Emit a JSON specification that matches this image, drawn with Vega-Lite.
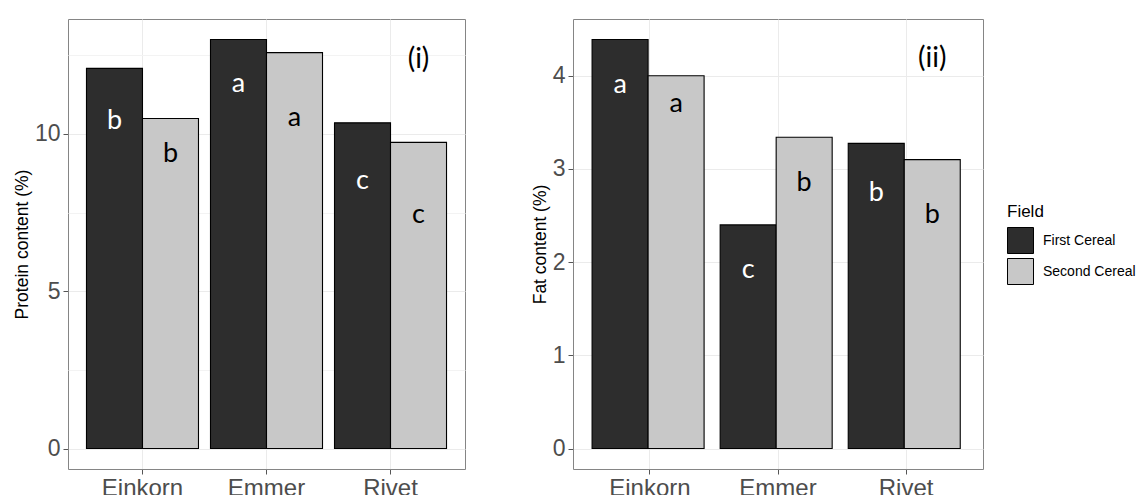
{
  "$schema": "https://vega.github.io/schema/vega-lite/v6.json",
  "padding": {"left": 12, "top": 18, "right": 0, "bottom": 0},
  "background": "white",
  "spacing": 64,
  "datasets": {
    "bars": [
      {"Crop": "Einkorn", "Field": "First Cereal", "Protein": 12.08, "ProteinLetter": "b", "ProteinLabel": 10.17, "Fat": 4.39, "FatLetter": "a", "FatLabel": 3.82},
      {"Crop": "Einkorn", "Field": "Second Cereal", "Protein": 10.49, "ProteinLetter": "b", "ProteinLabel": 9.12, "Fat": 4.0, "FatLetter": "a", "FatLabel": 3.61},
      {"Crop": "Emmer", "Field": "First Cereal", "Protein": 13.0, "ProteinLetter": "a", "ProteinLabel": 11.34, "Fat": 2.4, "FatLetter": "c", "FatLabel": 1.83},
      {"Crop": "Emmer", "Field": "Second Cereal", "Protein": 12.58, "ProteinLetter": "a", "ProteinLabel": 10.26, "Fat": 3.34, "FatLetter": "b", "FatLabel": 2.76},
      {"Crop": "Rivet", "Field": "First Cereal", "Protein": 10.35, "ProteinLetter": "c", "ProteinLabel": 8.24, "Fat": 3.275, "FatLetter": "b", "FatLabel": 2.66},
      {"Crop": "Rivet", "Field": "Second Cereal", "Protein": 9.73, "ProteinLetter": "c", "ProteinLabel": 7.16, "Fat": 3.1, "FatLetter": "b", "FatLabel": 2.42}
    ],
    "tags": [
      {"Crop": "Rivet", "Field": "Second Cereal", "Panel": "Protein", "Tag": "(i)", "Y": 12.08},
      {"Crop": "Rivet", "Field": "Second Cereal", "Panel": "Fat", "Tag": "(ii)", "Y": 4.09}
    ]
  },
  "config": {
    "view": {"stroke": "#858585", "strokeWidth": 1},
    "axis": {
      "domain": false,
      "tickSize": 5,
      "tickColor": "#555555",
      "labelColor": "#4D4D4D",
      "labelFont": "Liberation Sans",
      "labelFontSize": 23,
      "labelPadding": 3,
      "titleFont": "Liberation Sans",
      "titleFontSize": 17.5,
      "titleFontWeight": "normal",
      "titleColor": "#000000",
      "titlePadding": 3,
      "gridColor": "#EBEBEB",
      "gridWidth": 1
    },
    "legend": {
      "orient": "none",
      "legendX": 939,
      "legendY": 185,
      "title": "Field",
      "titleFont": "Liberation Sans",
      "titleFontSize": 17,
      "titleFontWeight": "normal",
      "titleColor": "#000000",
      "titlePadding": 6,
      "labelFont": "Liberation Sans",
      "labelFontSize": 14,
      "labelColor": "#000000",
      "labelOffset": 9,
      "symbolType": "square",
      "symbolSize": 676,
      "symbolStrokeColor": "#000000",
      "symbolStrokeWidth": 1,
      "rowPadding": 0
    }
  },
  "resolve": {"scale": {"fill": "shared"}, "legend": {"fill": "shared"}},
  "hconcat": [
    {
      "width": 397,
      "height": 450,
      "layer": [
        {
          "data": {"name": "bars"},
          "mark": {"type": "bar", "stroke": "#000000", "strokeWidth": 1.1},
          "encoding": {
            "x": {"field": "Crop", "type": "nominal", "sort": ["Einkorn", "Emmer", "Rivet"],
                  "scale": {"paddingInner": 0.0968, "paddingOuter": 0.149},
                  "axis": {"title": null, "labelAngle": 0, "grid": true, "bandPosition": 0.5, "labelFontSize": 24, "labelPadding": 2}},
            "xOffset": {"field": "Field", "type": "nominal", "scale": {"domain": ["First Cereal", "Second Cereal"], "paddingInner": 0, "paddingOuter": 0}},
            "y": {"field": "Protein", "type": "quantitative", "stack": null,
                  "scale": {"domain": [-0.65, 13.65], "nice": false, "zero": false},
                  "axis": {"title": "Protein content (%)", "values": [0, 2.5, 5, 7.5, 10, 12.5], "format": "d",
                           "labelExpr": "datum.value % 5 === 0 ? datum.label : ''",
                           "tickColor": {"condition": {"test": "datum.value % 5 !== 0", "value": "transparent"}, "value": "#555555"},
                           "gridColor": {"condition": {"test": "datum.value % 5 !== 0", "value": "#F3F3F3"}, "value": "#EBEBEB"}}},
            "y2": {"datum": 0},
            "fill": {"field": "Field", "type": "nominal", "scale": {"domain": ["First Cereal", "Second Cereal"], "range": ["#2D2D2D", "#C8C8C8"]}, "legend": {"title": "Field"}}
          }
        },
        {
          "data": {"name": "bars"},
          "mark": {"type": "text", "font": "Lato", "fontSize": 27, "baseline": "alphabetic", "align": "center"},
          "encoding": {
            "x": {"field": "Crop", "type": "nominal", "sort": ["Einkorn", "Emmer", "Rivet"]},
            "xOffset": {"field": "Field", "type": "nominal"},
            "y": {"field": "ProteinLabel", "type": "quantitative"},
            "text": {"field": "ProteinLetter"},
            "fill": {"condition": {"test": "datum.Field === 'First Cereal'", "value": "#FFFFFF"}, "value": "#000000"}
          }
        },
        {
          "data": {"name": "tags"},
          "transform": [{"filter": "datum.Panel === 'Protein'"}],
          "mark": {"type": "text", "font": "Lato", "fontSize": 28, "baseline": "alphabetic", "align": "center", "fill": "#000000"},
          "encoding": {
            "x": {"field": "Crop", "type": "nominal", "sort": ["Einkorn", "Emmer", "Rivet"]},
            "xOffset": {"field": "Field", "type": "nominal"},
            "y": {"field": "Y", "type": "quantitative"},
            "text": {"field": "Tag"}
          }
        }
      ]
    },
    {
      "width": 410,
      "height": 450,
      "layer": [
        {
          "data": {"name": "bars"},
          "mark": {"type": "bar", "stroke": "#000000", "strokeWidth": 1.1},
          "encoding": {
            "x": {"field": "Crop", "type": "nominal", "sort": ["Einkorn", "Emmer", "Rivet"],
                  "scale": {"paddingInner": 0.0968, "paddingOuter": 0.149},
                  "axis": {"title": null, "labelAngle": 0, "grid": true, "bandPosition": 0.5, "labelFontSize": 24, "labelPadding": 2}},
            "xOffset": {"field": "Field", "type": "nominal", "scale": {"domain": ["First Cereal", "Second Cereal"], "paddingInner": 0, "paddingOuter": 0}},
            "y": {"field": "Fat", "type": "quantitative", "stack": null,
                  "scale": {"domain": [-0.2195, 4.6095], "nice": false, "zero": false},
                  "axis": {"title": "Fat content (%)", "values": [0, 0.5, 1, 1.5, 2, 2.5, 3, 3.5, 4, 4.5], "format": "d",
                           "labelExpr": "datum.value % 1 === 0 ? datum.label : ''",
                           "tickColor": {"condition": {"test": "datum.value % 1 !== 0", "value": "transparent"}, "value": "#555555"},
                           "gridColor": {"condition": {"test": "datum.value % 1 !== 0", "value": "#F3F3F3"}, "value": "#EBEBEB"}}},
            "y2": {"datum": 0},
            "fill": {"field": "Field", "type": "nominal", "scale": {"domain": ["First Cereal", "Second Cereal"], "range": ["#2D2D2D", "#C8C8C8"]}, "legend": {"title": "Field"}}
          }
        },
        {
          "data": {"name": "bars"},
          "mark": {"type": "text", "font": "Lato", "fontSize": 27, "baseline": "alphabetic", "align": "center"},
          "encoding": {
            "x": {"field": "Crop", "type": "nominal", "sort": ["Einkorn", "Emmer", "Rivet"]},
            "xOffset": {"field": "Field", "type": "nominal"},
            "y": {"field": "FatLabel", "type": "quantitative"},
            "text": {"field": "FatLetter"},
            "fill": {"condition": {"test": "datum.Field === 'First Cereal'", "value": "#FFFFFF"}, "value": "#000000"}
          }
        },
        {
          "data": {"name": "tags"},
          "transform": [{"filter": "datum.Panel === 'Fat'"}],
          "mark": {"type": "text", "font": "Lato", "fontSize": 28, "baseline": "alphabetic", "align": "center", "fill": "#000000"},
          "encoding": {
            "x": {"field": "Crop", "type": "nominal", "sort": ["Einkorn", "Emmer", "Rivet"]},
            "xOffset": {"field": "Field", "type": "nominal"},
            "y": {"field": "Y", "type": "quantitative"},
            "text": {"field": "Tag"}
          }
        }
      ]
    }
  ]
}
